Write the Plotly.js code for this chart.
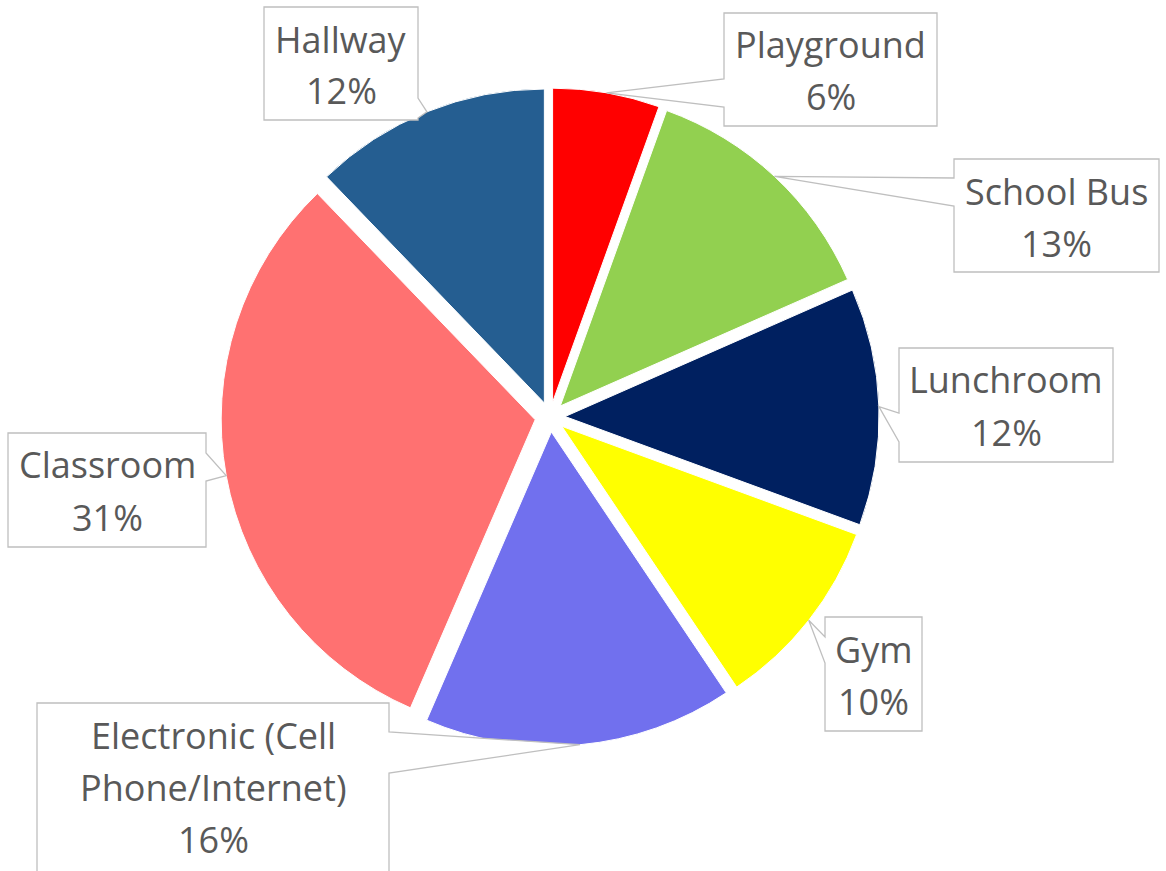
<!DOCTYPE html>
<html>
<head>
<meta charset="utf-8">
<script src="https://cdn.plot.ly/plotly-3.0.1.min.js"></script>
<style>html,body{margin:0;padding:0;background:#fff;}#chart{width:1166px;height:871px;}</style>
</head>
<body>
<div id="chart"></div>
<script>
// ---- data ----
const categories = ["Playground", "School Bus", "Lunchroom", "Gym", "Electronic (Cell Phone/Internet)", "Classroom", "Hallway"];
const values = [5.5, 12.9, 12.2, 10.0, 15.9, 31.3, 12.2];
const colors = ["#FF0000", "#92D050", "#002060", "#FFFF00", "#7170EE", "#FF7171", "#255E91"];

// ---- layout (pixels) ----
const W = 1166, H = 871;
const CX = 550, CY = 417, R = 314, PULL = 0.048;
// label boxes: [x0, y0, x1, y1], side of callout wedge, wedge base along that side
const boxes = [
  {b: [724, 13, 937, 126], side: "left", base: [79, 107]},
  {b: [954, 159, 1159, 272], side: "left", base: [178, 206]},
  {b: [899, 348, 1113, 462], side: "left", base: [413, 442]},
  {b: [825, 617, 922, 731], side: "left", base: [637, 663]},
  {b: [37, 703, 389, 905], side: "right", base: [732, 773]},
  {b: [8, 433, 206, 547], side: "right", base: [453, 481]},
  {b: [264, 7, 418, 120], side: "right", base: [98, 118]}
];
const FONT = {family: "Open Sans, Liberation Sans, sans-serif", size: 36, color: "#595959"};
const LINE_PITCH = 52, FIRST_LINE = 32;

const px = x => x / W;
const py = y => 1 - y / H;

function wrap(s, maxChars) {
  const words = s.split(" ");
  const lines = [];
  let cur = "";
  words.forEach(w => {
    const t = cur ? cur + " " + w : w;
    if (t.length > maxChars && cur) { lines.push(cur); cur = w; } else { cur = t; }
  });
  if (cur) lines.push(cur);
  return lines;
}

const half = R * (1 + PULL);
const trace = {
  type: "pie",
  labels: categories,
  values: values,
  sort: false,
  direction: "clockwise",
  rotation: 0,
  pull: PULL,
  textinfo: "none",
  hoverinfo: "label+percent",
  marker: {colors: colors, line: {color: "#ffffff", width: 1}},
  domain: {x: [(CX - half) / W, (CX + half) / W], y: [1 - (CY + half) / H, 1 - (CY - half) / H]},
  showlegend: false
};

const total = values.reduce((a, b) => a + b, 0);
const shapes = [];
const annotations = [];
let cum = 0;
values.forEach((v, i) => {
  const mid = (cum + v / 2) / total * 2 * Math.PI;
  cum += v;
  const dx = Math.sin(mid), dy = -Math.cos(mid);
  const tipX = CX + PULL * R * dx + R * dx;
  const tipY = CY + PULL * R * dy + R * dy;
  const bx = boxes[i];
  const [x0, y0, x1, y1] = bx.b;
  let pts;
  if (bx.side === "left") {
    pts = [[x0, y0], [x1, y0], [x1, y1], [x0, y1], [x0, bx.base[1]], [tipX, tipY], [x0, bx.base[0]]];
  } else {
    pts = [[x0, y0], [x1, y0], [x1, bx.base[0]], [tipX, tipY], [x1, bx.base[1]], [x1, y1], [x0, y1]];
  }
  const path = "M " + pts.map(p => px(p[0]).toFixed(5) + "," + py(p[1]).toFixed(5)).join(" L ") + " Z";
  shapes.push({type: "path", xref: "paper", yref: "paper", path: path,
    fillcolor: "#ffffff", line: {color: "#BFBFBF", width: 1.3}, layer: "above"});
  const lines = wrap(categories[i], 16);
  lines.push(Math.round(+(v / total * 100).toFixed(1)) + "%");
  const tx = (x0 + x1) / 2;
  lines.forEach((t, k) => {
    annotations.push({xref: "paper", yref: "paper", x: px(tx), y: py(y0 + FIRST_LINE + k * LINE_PITCH),
      xanchor: "center", yanchor: "middle", text: t, showarrow: false, font: FONT});
  });
});

const layout = {
  width: W, height: H,
  margin: {l: 0, r: 0, t: 0, b: 0},
  paper_bgcolor: "#ffffff",
  plot_bgcolor: "#ffffff",
  shapes: shapes,
  annotations: annotations,
  showlegend: false
};
Plotly.newPlot("chart", [trace], layout, {displayModeBar: false, staticPlot: true});
</script>
</body>
</html>
